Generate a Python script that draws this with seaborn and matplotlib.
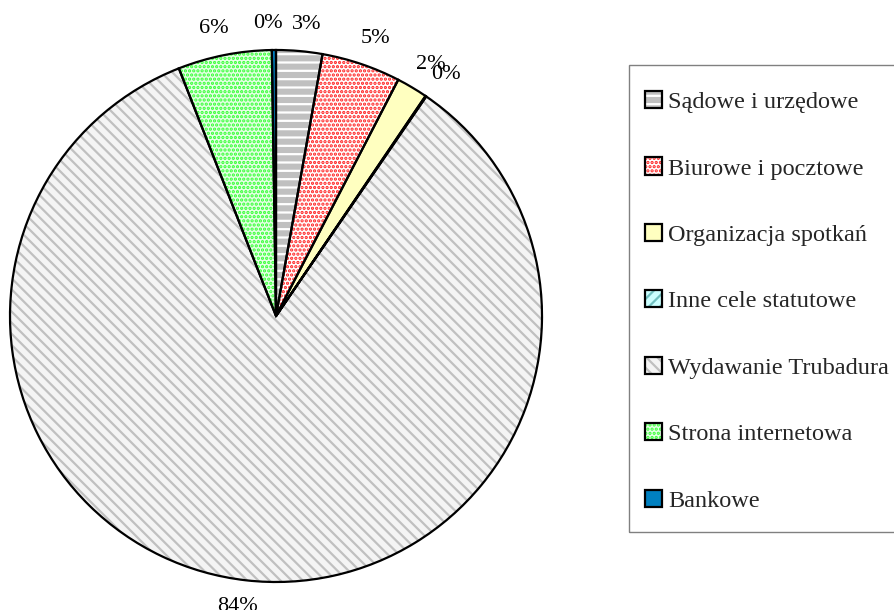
import matplotlib.pyplot as plt
import matplotlib.patches as mpatches
import numpy as np
import seaborn as sns

categories = ['Sądowe i urzędowe', 'Biurowe i pocztowe', 'Organizacja spotkań',
              'Inne cele statutowe', 'Wydawanie Trubadura', 'Strona internetowa', 'Bankowe']
shares = [2.8, 4.8, 1.9, 0.05, 84.5, 5.7, 0.25]

fills = ['#c0c0c0', '#ffffff', '#ffffc0', '#ccffff', '#f4f4f4', '#e6ffe6', '#0080c0']
hatch_colors = ['#ffffff', '#ff2020', '#ffffc0', '#70c0c0', '#c0c0c0', '#33ff33', '#0080c0']
hatches = ['--', '....', '', '///', '\\\\\\', '....', '']

sns.set_theme(style='white')
plt.rcParams['font.family'] = ['Liberation Serif', 'DejaVu Serif']
plt.rcParams['hatch.linewidth'] = 1.6

fig = plt.figure(figsize=(8.94, 6.10), dpi=100)
ax = fig.add_axes([10 / 894, 28 / 610, 532 / 894, 532 / 610])

# patterned fill first, then black outlines on top
wedges, texts, autotexts = ax.pie(shares, colors=fills, startangle=90, counterclock=False,
                                  autopct='%.0f%%', pctdistance=1.1,
                                  wedgeprops=dict(linewidth=0),
                                  textprops=dict(fontsize=16, color='black'))
for w, h, hc in zip(wedges, hatches, hatch_colors):
    w.set_edgecolor(hc)
    w.set_hatch(h)

# push labels a little sideways, away from the vertical axis
for t in autotexts:
    x, y = t.get_position()
    t.set_position((x + 0.02 * np.sign(x), y))

outlines, _ = ax.pie(shares, startangle=90, counterclock=False, colors=['none'] * len(shares),
                     wedgeprops=dict(linewidth=1.6, edgecolor='black', fill=False))
ax.set_xlim(-1, 1)
ax.set_ylim(-1, 1)

# legend box
frame = mpatches.Rectangle((629 / 894, 1 - 532 / 610), 300 / 894, (532 - 65) / 610,
                           transform=fig.transFigure, facecolor='none',
                           edgecolor='#808080', linewidth=1.0)
fig.add_artist(frame)

handles = [(w, o) for w, o in zip(wedges, outlines)]
leg = fig.legend(handles, categories, loc='upper left',
                 bbox_to_anchor=(645 / 894, 1 - 91 / 610), borderaxespad=0,
                 frameon=False, fontsize=17.5, borderpad=0,
                 handlelength=0.7, handleheight=0.7, handletextpad=0.25,
                 labelspacing=1.83)

plt.savefig('out.png', dpi=100)
